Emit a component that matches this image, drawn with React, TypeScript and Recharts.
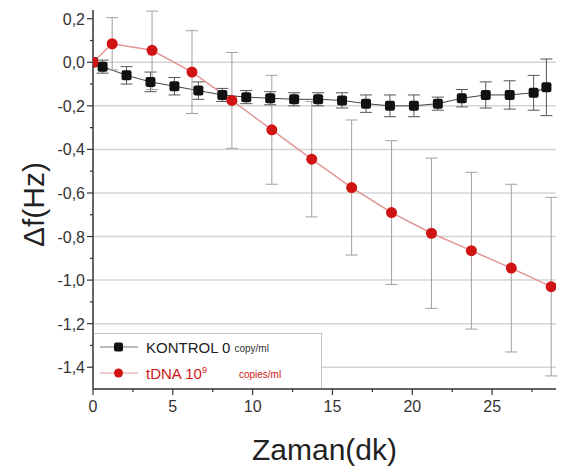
import { ErrorBar, Line, LineChart, ReferenceLine, XAxis, YAxis, Label } from "recharts"

const kontrolTime = [0, 0.6, 2.1, 3.6, 5.1, 6.6, 8.1, 9.6, 11.1, 12.6, 14.1, 15.6, 17.1, 18.6, 20.1, 21.6, 23.1, 24.6, 26.1, 27.6, 28.4]
const kontrolDf = [0, -0.02, -0.06, -0.09, -0.11, -0.13, -0.15, -0.16, -0.165, -0.17, -0.17, -0.175, -0.19, -0.2, -0.2, -0.19, -0.165, -0.15, -0.15, -0.14, -0.115]
const kontrolErr = [0, 0.03, 0.04, 0.045, 0.04, 0.04, 0.03, 0.03, 0.03, 0.03, 0.03, 0.035, 0.04, 0.05, 0.05, 0.03, 0.04, 0.06, 0.065, 0.08, 0.13]

const tdnaTime = [0, 1.2, 3.7, 6.2, 8.7, 11.2, 13.7, 16.2, 18.7, 21.2, 23.7, 26.2, 28.7]
const tdnaDf = [0, 0.085, 0.055, -0.045, -0.175, -0.31, -0.445, -0.575, -0.69, -0.785, -0.865, -0.945, -1.03]
const tdnaErr = [0, 0.12, 0.18, 0.19, 0.22, 0.25, 0.265, 0.31, 0.33, 0.345, 0.36, 0.385, 0.41]

const xMajorTicks = [0, 5, 10, 15, 20, 25]
const xMinorTicks = [2.5, 7.5, 12.5, 17.5, 22.5, 27.5]
const yMajorTicks = [0.2, 0, -0.2, -0.4, -0.6, -0.8, -1, -1.2, -1.4]
const yMinorTicks = [0.1, -0.1, -0.3, -0.5, -0.7, -0.9, -1.1, -1.3]
const gridValues = [0, -0.2, -0.4, -0.6, -0.8, -1, -1.2, -1.4]

const kontrolData = kontrolTime.map((t, i) => ({ t, df: kontrolDf[i], err: kontrolErr[i] }))
const tdnaData = tdnaTime.map((t, i) => ({ t, df: tdnaDf[i], err: tdnaErr[i] }))

const FONT = "'Liberation Sans', Arial, sans-serif"
const TICK_COLOR = "#333"

const fmt = (v: number) => v.toFixed(1).replace(".", ",")

const BottomTick = (props: any) => {
    const { x, y, payload } = props
    const major = xMajorTicks.includes(payload.value)
    return (
        <g>
            <line x1={x} x2={x} y1={y} y2={y + (major ? 6 : 3)} stroke="#333" strokeWidth={1.2} />
            {major && (
                <text x={x} y={y + 23} textAnchor="middle" fontSize={16} fill={TICK_COLOR} fontFamily={FONT}>
                    {payload.value}
                </text>
            )}
        </g>
    )
}

const LeftTick = (props: any) => {
    const { x, y, payload } = props
    const major = yMajorTicks.includes(payload.value)
    return (
        <g>
            <line x1={x - (major ? 6 : 3)} x2={x} y1={y} y2={y} stroke="#333" strokeWidth={1.2} />
            {major && (
                <text x={x - 8} y={y + 6} textAnchor="end" fontSize={16} fill={TICK_COLOR} fontFamily={FONT}>
                    {fmt(payload.value)}
                </text>
            )}
        </g>
    )
}

const TopTick = (props: any) => {
    const { x, y, payload } = props
    const major = xMajorTicks.includes(payload.value)
    return <line x1={x} x2={x} y1={y} y2={y + (major ? 5 : 3)} stroke="#777" strokeWidth={1} />
}

const RightTick = (props: any) => {
    const { x, y, payload } = props
    const major = yMajorTicks.includes(payload.value)
    return <line x1={x - (major ? 5 : 3)} x2={x} y1={y} y2={y} stroke="#777" strokeWidth={1} />
}

const squareDot = (p: any) => (
    <rect key={`k${p.index}`} x={p.cx - 5} y={p.cy - 5} width={10} height={10} rx={2} fill="#111" />
)

const circleDot = (p: any) => <circle key={`t${p.index}`} cx={p.cx} cy={p.cy} r={5.5} fill="#d01414" />

export default function App() {
    return (
        <div style={{ position: "absolute", left: 0, top: 0, width: 561, height: 470, background: "#fff" }}>
            <LineChart width={561} height={470} margin={{ top: 10, right: 5, left: 0, bottom: 0 }}>
                <XAxis
                    xAxisId="main"
                    dataKey="t"
                    type="number"
                    domain={[0, 29]}
                    allowDataOverflow
                    ticks={[...xMajorTicks, ...xMinorTicks]}
                    interval={0}
                    tickSize={0}
                    tickMargin={0}
                    tick={<BottomTick />}
                    height={81}
                    axisLine={{ stroke: "#333", strokeWidth: 1.5 }}
                >
                    <Label
                        value="Zaman(dk)"
                        position="insideBottom"
                        offset={10}
                        style={{ fontSize: 30, fill: "#222", fontFamily: FONT }}
                    />
                </XAxis>
                <XAxis
                    xAxisId="top"
                    orientation="top"
                    type="number"
                    domain={[0, 29]}
                    allowDataOverflow
                    ticks={[...xMajorTicks, ...xMinorTicks]}
                    interval={0}
                    tickSize={0}
                    tickMargin={0}
                    tick={<TopTick />}
                    height={0}
                    axisLine={{ stroke: "#888", strokeWidth: 1 }}
                />
                <YAxis
                    yAxisId="main"
                    type="number"
                    domain={[-1.5, 0.24]}
                    allowDataOverflow
                    ticks={[...yMajorTicks, ...yMinorTicks]}
                    interval={0}
                    tickSize={0}
                    tickMargin={0}
                    tick={<LeftTick />}
                    width={93}
                    axisLine={{ stroke: "#333", strokeWidth: 1.5 }}
                >
                    <Label
                        content={({ viewBox }: any) => (
                            <text
                                x={viewBox.x + 33}
                                y={viewBox.y + viewBox.height / 2 + 5}
                                transform={`rotate(-90 ${viewBox.x + 33} ${viewBox.y + viewBox.height / 2 + 5})`}
                                textAnchor="middle"
                                dominantBaseline="central"
                                fontSize={30}
                                fill="#222"
                                fontFamily={FONT}
                            >
                                Δf(Hz)
                            </text>
                        )}
                    />
                </YAxis>
                <YAxis
                    yAxisId="right"
                    orientation="right"
                    type="number"
                    domain={[-1.5, 0.24]}
                    allowDataOverflow
                    ticks={[...yMajorTicks, ...yMinorTicks]}
                    interval={0}
                    tickSize={0}
                    tickMargin={0}
                    tick={<RightTick />}
                    width={0}
                    axisLine={{ stroke: "#888", strokeWidth: 1 }}
                />
                {gridValues.map((v) => (
                    <ReferenceLine key={v} xAxisId="main" yAxisId="main" y={v} stroke="#d4d4d4" strokeWidth={1.5} />
                ))}
                <Line
                    xAxisId="main"
                    yAxisId="main"
                    data={kontrolData}
                    dataKey="df"
                    stroke="#444"
                    strokeWidth={1}
                    dot={squareDot}
                    activeDot={false}
                    isAnimationActive={false}
                >
                    <ErrorBar dataKey="err" direction="y" width={6} stroke="#555" strokeWidth={1} />
                </Line>
                <Line
                    xAxisId="main"
                    yAxisId="main"
                    data={tdnaData}
                    dataKey="df"
                    stroke="#e39595"
                    strokeWidth={1.5}
                    dot={circleDot}
                    activeDot={false}
                    isAnimationActive={false}
                >
                    <ErrorBar dataKey="err" direction="y" width={6} stroke="#a89c9c" strokeWidth={1} />
                </Line>
            </LineChart>
            <div
                style={{
                    position: "absolute",
                    left: 94,
                    top: 333,
                    width: 228,
                    height: 55,
                    border: "1px solid #c4c4c4",
                    borderBottom: "none",
                    borderLeft: "none",
                    background: "#fff",
                    boxSizing: "border-box",
                    fontFamily: FONT,
                }}
            >
                <div style={{ position: "absolute", left: 0, top: 3, height: 20, display: "flex", alignItems: "center", whiteSpace: "nowrap" }}>
                    <svg width={50} height={20}>
                        <line x1={6} x2={44} y1={10} y2={10} stroke="#777" strokeWidth={1} />
                        <rect x={20} y={5.5} width={9} height={9} rx={2} fill="#111" />
                    </svg>
                    <span style={{ fontSize: 15, color: "#222", marginLeft: 2 }}>KONTROL 0</span>
                    <span style={{ fontSize: 10, color: "#333", marginLeft: 4, marginTop: 3 }}>copy/ml</span>
                </div>
                <div style={{ position: "absolute", left: 0, top: 29, height: 20, display: "flex", alignItems: "center", whiteSpace: "nowrap" }}>
                    <svg width={50} height={20}>
                        <line x1={6} x2={44} y1={10} y2={10} stroke="#e39595" strokeWidth={1} />
                        <circle cx={24.5} cy={10} r={4.5} fill="#d01414" />
                    </svg>
                    <span style={{ fontSize: 15, color: "#d01818", marginLeft: 2 }}>
                        tDNA 10<sup style={{ fontSize: 9 }}>9</sup>
                    </span>
                    <span style={{ fontSize: 10, color: "#d01818", marginLeft: 32, marginTop: 3 }}>copies/ml</span>
                </div>
            </div>
        </div>
    )
}
